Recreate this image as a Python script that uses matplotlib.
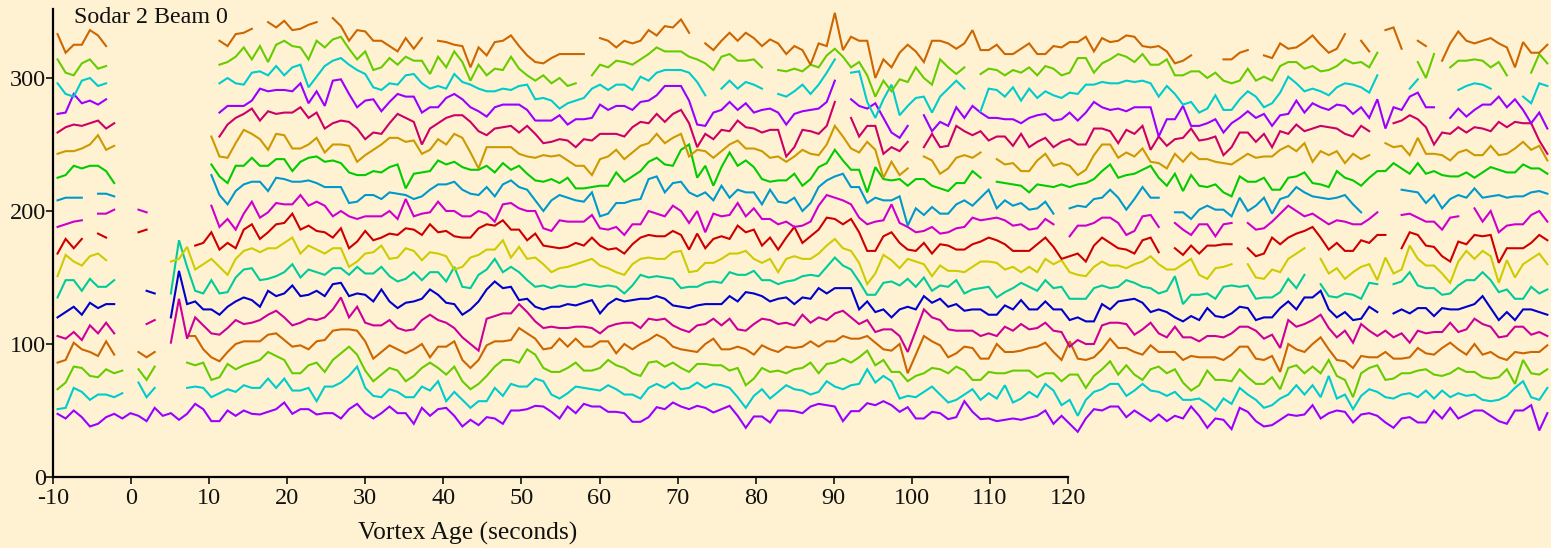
import matplotlib
matplotlib.use("Agg")
import matplotlib.pyplot as plt
import numpy as np

n = np.nan

# range gates from the lowest line to the highest, one value per sample
gate_01 = [47.5,44,50,45,38,40,45,47.5,44,48,46,42,52,46,48,43,47.5,55,51,42,42,50,46,50,47.5,47,49,51,56,47.5,51,51,47,48,48,44,51,55,48,44,48,53,48,48,40,52,46,51,52,46,38,43,39,45,44,40,50,50,
           51,53.5,53,49,44,53,48,55,53,53,49,49,48,41.5,41.5,45,52.5,51,56,53,51,53.5,52,48.5,51,53.5,46,37,45.5,45.5,41,50,50,49.5,48,53,55,54,53,42,49.5,49.5,55.5,54,57,54,49,52.5,44,44,49,48,43.5,45,57,49,43.5,44,42,43,44,43,44.5,
           46,50,40,46,40,34,44,51,50,53,53,45,50,46,42,47,42,46,44,53,46,37,44,43,36,52,49,42,38,39,43,47,46,47,54,44,48,50,49,41,47,48,46,41,37,44,45,41,41,50,44,52,44,47,50,50,46,42,40,50,50,54,35,48]
gate_02 = [51,52,67,64,58,62,62,60,63,n,71,60,67,n,n,n,67,68,67,60,63,66,64,69,67,67,74,67,74,65,65,67,57,68,68,71,76,83,67,61,60,66,64,60,60,68,65,72,57,64,58,52,57,57,67,61,70,68,
           68,74,72,62,59,63,68,67,66,65,69,66,62,62,59,67,70,67,71,66,67,71,67,70,69,67,60,52,61,66,59,64,69,66,65,62,64,72,68,66,69,70,81,71,76,72,59,61,60,64,68,62,56,58,62,66,58,63,59,69,56,59,64,
           60,70,65,54,58,46,58,64,66,70,70,61,65,70,65,64,61,64,58,58,59,55,50,59,55,67,62,58,52,54,59,62,69,62,69,60,76,59,62,51,61,66,64,60,59,62,63,60,65,59,65,60,63,61,62,58,57,58,61,67,72,60,58,67]
gate_03 = [66,71,83,82,76,75,81,78,80,n,81,73,83,n,n,n,86,84,86,73,75,85,81,84,86,88,94,91,88,78,78,84,86,79,88,93,98,92,80,72,77,82,80,72,76,82,86,82,77,83,72,66,70,76,83,88,88,86,
           96,92,82,79,79,82,86,80,80,82,88,84,82,78,76,86,87,83,86,82,79,85,85,84,84,80,82,69,74,82,79,80,78,81,82,86,78,85,86,89,86,90,95,84,88,79,79,72,76,78,82,81,78,83,80,73,73,79,78,78,80,80,80,
           75,78,78,72,77,77,67,76,81,87,77,84,77,73,81,83,78,81,71,65,69,80,73,73,72,81,75,70,70,75,66,82,84,78,83,78,88,76,73,60,78,82,84,73,74,78,78,80,81,77,76,78,82,79,79,75,74,75,81,70,88,78,77,81]
gate_04 = [86,88,101,96,94,91,102,92,n,n,94,90,94,n,n,n,106,106,96,90,87,94,100,102,102,102,107,108,103,98,99,96,102,103,110,111,111,110,102,89,94,99,96,93,96,100,90,98,98,102,88,82,88,99,102,102,103,112,
           108,104,96,97,104,98,104,98,98,102,102,93,100,96,100,103,107,104,98,96,95,94,100,104,96,96,98,96,92,99,96,94,98,97,98,102,98,102,102,106,104,104,106,101,96,95,100,78,92,106,102,99,90,93,98,97,89,89,100,94,94,95,97,
           98,101,94,88,102,89,88,90,96,104,97,97,94,92,99,94,94,94,88,91,90,90,90,88,92,98,98,89,88,91,79,100,96,94,100,105,96,88,87,82,91,90,90,94,89,89,90,97,93,92,97,101,96,92,100,92,94,90,88,94,93,94,94,99]
gate_05 = [106,104,109,103,114,108,116,108,n,n,n,115,118,n,101,134,104,120,114,108,107,112,118,115,116,118,122,125,120,114,116,119,118,120,126,135,120,128,116,114,114,118,112,110,111,118,122,118,116,112,105,100,95,119,121,123,123,130,
           124,117,112,113,112,112,113,113,112,108,113,115,116,116,112,119,118,119,114,111,109,114,115,119,114,119,111,110,115,119,118,115,116,114,122,116,120,118,123,125,120,115,118,109,111,111,106,94,110,126,120,118,111,110,110,110,106,108,106,113,110,115,111,
           112,116,110,109,98,103,100,100,114,116,116,115,107,111,116,108,105,113,105,105,102,106,106,105,108,113,113,110,104,107,97,118,113,115,118,122,112,105,110,101,115,110,106,110,105,108,101,110,108,109,109,116,109,111,119,115,113,105,106,113,113,107,109,106]
gate_06 = [120,124,128,122,131,127,130,130,n,n,n,140,138,n,120,155,130,132,126,126,122,128,132,135,133,128,140,136,138,144,136,137,140,136,145,146,136,138,137,132,141,132,127,131,132,134,141,137,131,130,122,126,132,141,147,142,143,133,
           134,128,126,128,128,130,129,131,133,123,130,134,132,133,134,134,136,134,129,128,127,129,130,130,130,136,132,139,138,136,132,134,135,130,135,134,142,138,142,142,142,126,132,124,126,120,126,128,126,136,131,134,128,130,125,126,126,122,122,129,126,133,126,
           126,132,126,126,118,120,117,117,130,126,132,133,134,131,124,126,124,120,117,121,118,127,121,120,123,128,127,118,120,120,127,132,126,135,135,140,126,120,124,118,119,128,124,n,123,126,123,127,127,121,127,126,126,128,130,136,127,118,124,118,126,126,124,122]
gate_07 = [135,148,148,140,149,143,143,148,n,n,n,n,n,n,138,178,158,140,138,148,138,139,150,156,157,148,149,151,154,160,150,156,154,152,157,157,152,158,153,153,158,151,147,149,154,148,154,154,147,158,143,142,152,156,164,154,158,154,
           148,143,144,142,144,143,143,145,144,143,144,143,138,144,152,150,151,150,149,142,143,143,146,147,146,154,152,152,155,148,148,145,147,148,151,152,151,158,165,159,156,147,137,137,146,147,144,149,143,150,140,144,143,148,138,141,142,143,135,139,142,146,143,
           140,148,142,143,134,134,134,142,144,142,143,148,146,143,142,138,140,151,130,137,137,138,134,143,144,143,144,134,135,135,139,149,142,152,n,145,136,135,138,137,134,146,145,n,145,147,154,144,142,142,137,138,144,148,148,154,148,139,141,134,134,143,138,141]
gate_08 = [151,167,162,159,166,168,163,n,n,n,n,n,n,n,162,164,173,156,160,164,158,152,164,170,172,169,172,172,176,180,168,174,171,168,172,172,158,162,168,169,174,164,165,172,170,163,169,168,166,156,158,165,167,171,171,178,165,173,
           164,165,160,154,157,158,160,162,164,159,157,154,152,160,164,165,164,164,169,170,154,155,161,161,164,168,168,170,164,161,164,154,164,166,164,164,168,174,179,172,170,161,145,153,167,163,157,164,162,160,151,159,155,155,154,158,162,162,161,156,158,154,158,
           154,164,160,163,154,152,151,158,162,159,159,157,160,162,166,160,156,156,160,164,152,149,157,158,160,n,160,150,149,156,154,164,168,172,n,164,153,157,149,154,158,160,148,165,153,156,174,164,159,159,153,146,162,170,164,170,166,146,163,150,160,164,168,160]
gate_09 = [168,179,172,179,n,183,180,n,n,n,184,186,n,n,n,n,n,174,176,184,171,176,172,186,190,179,184,190,191,198,186,189,185,184,180,187,172,177,185,178,180,183,182,187,186,182,190,184,185,181,180,180,187,190,189,193,186,186,
           178,183,174,173,172,173,176,174,180,174,171,172,168,175,180,182,181,181,185,182,171,183,172,179,181,179,189,184,186,174,180,171,180,188,176,181,186,195,194,190,194,184,170,170,181,184,176,171,170,176,168,175,174,171,171,175,177,180,178,175,170,170,170,
           175,180,173,164,166,168,162,174,180,176,172,171,168,178,180,169,n,172,167,174,168,174,174,175,175,n,172,166,168,180,175,180,183,185,188,180,171,176,170,170,178,176,182,182,n,172,184,182,174,173,166,162,177,175,182,181,182,161,172,172,172,176,182,178]
gate_10 = [188,190,192,193,n,198,198,201,n,n,201,199,n,n,n,n,n,n,n,204,188,194,186,198,207,195,199,206,205,205,212,204,207,204,196,200,196,194,196,196,196,200,194,209,196,198,199,207,200,200,196,196,200,198,192,205,206,202,
           200,200,187,185,193,192,192,192,197,187,186,188,182,190,190,200,198,196,204,200,191,200,184,198,196,197,206,196,202,194,194,190,192,188,189,192,204,212,210,208,205,195,190,192,193,205,191,188,184,185,188,183,184,187,188,195,193,194,195,193,189,190,186,
           187,194,190,n,181,189,189,191,195,195,191,182,185,196,197,188,n,191,186,182,190,190,181,190,191,n,191,186,187,192,198,204,200,196,198,194,190,193,192,190,190,194,199,n,n,197,198,195,192,192,186,195,196,n,202,192,200,184,189,190,190,197,200,192]
gate_11 = [208,210,210,210,n,213,213,211,n,n,n,n,n,n,n,n,n,n,n,227,212,205,215,220,222,222,215,225,224,222,222,223,221,218,218,218,206,207,212,212,209,214,213,212,209,211,216,220,220,222,216,213,212,218,211,220,223,218,
           216,208,200,208,212,210,208,207,214,196,198,206,206,208,209,224,226,214,221,222,214,211,214,208,219,210,216,214,214,205,216,207,206,210,200,206,218,223,226,228,218,218,206,210,208,208,211,189,202,197,203,198,198,205,208,204,210,216,202,208,204,206,201,
           202,207,198,n,202,204,203,209,210,216,210,201,209,218,210,210,n,199,199,194,201,204,201,201,196,210,200,204,210,198,209,211,218,214,211,210,209,210,212,205,199,n,n,n,n,216,215,214,206,212,202,209,212,210,217,210,211,212,210,211,211,214,215,213]
gate_12 = [225,227,234,232,234,234,230,221,n,n,n,n,n,n,n,n,n,n,n,235,226,221,234,234,240,234,234,239,239,230,237,240,241,237,238,236,229,227,227,230,229,233,235,217,228,229,230,238,235,237,233,231,231,234,229,236,231,234,
           228,223,222,224,221,225,217,217,218,219,219,229,222,226,230,237,240,235,234,246,250,225,234,219,233,244,234,238,233,224,222,223,223,228,219,224,233,236,246,238,231,231,214,233,224,223,224,219,224,224,219,217,215,221,221,230,225,n,222,221,220,219,214,
           220,219,218,220,218,220,221,224,230,235,225,227,228,231,234,225,219,228,215,227,219,218,220,214,211,226,222,222,225,216,216,225,226,229,221,220,218,230,225,223,219,225,230,230,236,232,228,236,228,230,227,226,226,229,225,229,233,231,229,229,235,232,232,228]
gate_13 = [243,245,245,247,250,257,246,249,n,n,n,n,n,n,n,n,n,n,n,256,241,240,251,261,258,254,246,258,257,247,247,250,255,244,250,250,249,237,242,246,250,255,255,252,253,243,246,254,250,258,255,244,232,248,248,248,248,243,
           241,240,242,241,242,238,234,234,227,239,241,246,239,244,249,251,258,251,255,258,241,246,245,240,245,250,253,247,247,245,240,241,237,241,246,243,242,250,264,256,247,244,252,246,225,237,227,232,n,241,238,228,232,240,242,240,244,n,239,235,236,230,230,
           238,243,234,236,234,227,231,242,250,250,240,244,241,247,237,236,232,243,237,244,239,239,237,236,235,239,243,240,241,241,246,249,245,251,237,245,242,245,236,243,239,242,n,251,248,249,242,255,243,243,242,238,244,246,242,242,249,242,243,247,252,246,249,238]
gate_14 = [259,263,265,264,266,268,262,266,n,n,n,n,n,n,n,n,n,n,n,n,256,265,270,273,277,268,275,273,274,274,278,270,274,262,266,268,267,262,254,259,258,266,273,270,267,250,262,266,270,272,272,267,260,257,262,263,264,259,
           264,258,251,252,254,253,248,254,253,258,258,258,256,263,267,266,273,267,273,276,266,248,258,254,261,260,268,263,262,259,261,261,241,248,261,260,258,264,282,n,270,256,264,264,243,248,245,252,n,248,258,248,249,264,260,257,260,253,256,256,249,258,248,
           252,255,248,252,254,250,250,262,262,260,251,261,258,264,246,256,249,254,255,262,253,254,256,242,248,259,259,252,258,248,260,258,265,260,262,264,263,262,258,256,264,260,n,n,266,268,272,269,263,250,259,258,263,259,263,262,260,267,263,267,266,266,253,243]
gate_15 = [273,274,288,281,283,280,284,n,n,n,n,n,n,n,n,n,n,n,n,n,274,279,279,279,283,292,290,291,291,290,296,281,290,279,298,299,288,278,283,284,275,282,288,286,286,274,278,278,285,288,284,278,275,271,278,280,280,280,
           276,268,268,268,272,265,269,269,270,280,276,279,279,276,282,283,287,294,294,294,283,265,264,274,276,282,276,281,274,276,277,274,265,273,275,276,277,282,298,n,284,279,277,281,270,259,255,264,n,272,260,267,264,278,270,279,274,270,270,269,269,266,270,
           272,273,268,269,274,268,274,282,278,276,277,275,278,278,278,256,269,269,279,264,264,266,269,259,266,270,275,270,273,264,272,273,283,274,281,278,276,280,279,273,278,270,284,262,278,276,286,289,278,278,n,270,277,271,276,280,280,286,278,284,276,266,274,262]
gate_16 = [296,288,286,298,300,294,296,n,n,n,n,n,n,n,n,n,n,n,n,n,296,300,296,295,304,305,302,309,302,308,310,293,301,309,313,315,310,306,303,293,291,296,295,302,303,296,292,294,292,303,297,295,292,290,290,292,291,294,
           295,284,285,283,277,281,283,285,292,295,291,295,295,291,301,298,304,306,306,306,304,297,287,n,292,298,292,297,295,292,n,288,286,290,295,288,295,304,314,n,304,305,282,270,284,295,272,279,285,286,274,286,292,298,292,n,275,292,291,286,293,283,292,
           285,290,287,285,289,288,295,295,297,296,296,298,297,298,296,286,294,288,280,282,274,277,287,276,276,284,290,286,278,281,289,301,296,290,292,290,287,293,296,295,293,289,302,n,n,n,292,299,n,n,n,n,291,294,296,295,292,n,n,n,286,281,296,294]
gate_17 = [314,304,302,311,314,307,309,n,n,n,n,n,n,n,n,n,n,n,n,n,310,312,316,323,314,324,312,325,328,324,323,314,328,323,329,331,322,314,320,306,308,315,310,316,313,313,303,316,308,320,312,298,310,302,307,306,316,307,
           302,298,302,296,300,294,296,n,302,310,308,313,312,310,314,318,323,320,320,320,316,314,311,306,316,318,313,313,314,308,n,306,305,307,305,310,308,317,322,316,308,312,302,286,298,290,299,297,308,300,295,314,308,303,308,n,303,307,306,302,306,304,308,
           302,309,307,302,304,315,315,304,311,314,318,316,312,318,310,310,314,302,302,305,305,300,304,298,296,298,307,298,301,298,309,312,312,307,309,305,306,309,314,311,312,308,319,n,n,n,n,312,300,318,n,308,313,313,314,313,308,312,302,n,n,304,318,311]
gate_18 = [333,319,325,325,336,332,324,n,n,n,n,n,n,n,n,n,n,n,n,n,328,324,333,334,337,n,342,338,343,336,337,340,342,n,345,339,328,336,335,328,328,324,320,330,322,330,n,328,327,325,324,308,323,317,327,328,332,324,
           317,312,311,315,318,318,318,318,n,330,328,323,328,326,328,336,332,339,338,344,334,n,326,321,328,334,328,334,330,324,329,326,318,324,321,310,326,324,349,321,331,328,328,300,314,308,319,325,320,312,328,328,326,322,326,336,321,321,325,318,318,322,326,
           318,318,324,323,327,327,331,320,330,327,328,332,331,324,323,324,320,311,313,317,n,n,n,314,314,319,321,n,317,315,326,322,323,327,332,325,319,322,333,n,328,320,n,336,338,322,n,328,324,n,313,326,335,328,326,328,330,326,323,308,327,319,319,325]

gates = [gate_01, gate_02, gate_03, gate_04, gate_05, gate_06, gate_07, gate_08, gate_09,
         gate_10, gate_11, gate_12, gate_13, gate_14, gate_15, gate_16, gate_17, gate_18]
gate_colors = ["#9900ff", "#00cccc", "#66cc00", "#cc6600", "#cc0099", "#0000cc", "#00cc99", "#cccc00", "#cc0000",
               "#cc00cc", "#0099cc", "#00cc00", "#cc9900", "#cc0066", "#9900ff", "#00cccc", "#66cc00", "#cc6600"]
x_ticks = list(range(-10, 121, 10))
y_ticks = [0, 100, 200, 300]

first_age = -9.42
age_step = 1.037
ages = first_age + age_step * np.arange(len(gate_01))

plt.rcParams["font.family"] = ["Liberation Serif", "DejaVu Serif"]
plt.rcParams["axes.unicode_minus"] = False  # the axis uses a plain hyphen

W, H = 1551, 548
bg = "#fff2d3"
fig = plt.figure(figsize=(W / 100, H / 100), dpi=100, facecolor=bg)
ax = fig.add_axes([53 / W, 71 / H, (W - 53) / W, (H - 71) / H], facecolor=bg)

for values, color in zip(gates, gate_colors):
    ax.plot(ages, values, color=color, lw=1.5, solid_joinstyle="miter", clip_on=False)

ax.set_xlim(-10, -10 + (W - 53) / 7.808)
ax.set_ylim(0, (H - 71) / 1.33)
ax.spines["top"].set_visible(False)
ax.spines["right"].set_visible(False)
ax.spines["left"].set_bounds(0, 352)
ax.spines["bottom"].set_bounds(-10, 120)
ax.spines["left"].set_linewidth(1.6)
ax.spines["bottom"].set_linewidth(1.6)
ax.set_xticks(x_ticks)
ax.set_yticks(y_ticks)
ax.tick_params(axis="both", length=5, width=1.2, labelsize=17.5, color="#111111", labelcolor="#111111")
ax.tick_params(axis="x", pad=3)
ax.tick_params(axis="y", pad=0)

fig.text(74 / W, 1 - 23 / H, "Sodar 2 Beam 0", fontsize=17.3, color="#111111")
fig.text(358 / W, 1 - 540 / H, "Vortex Age (seconds)", fontsize=18.4, color="#111111")

fig.savefig("out.png", dpi=100, facecolor=bg)
plt.close(fig)
